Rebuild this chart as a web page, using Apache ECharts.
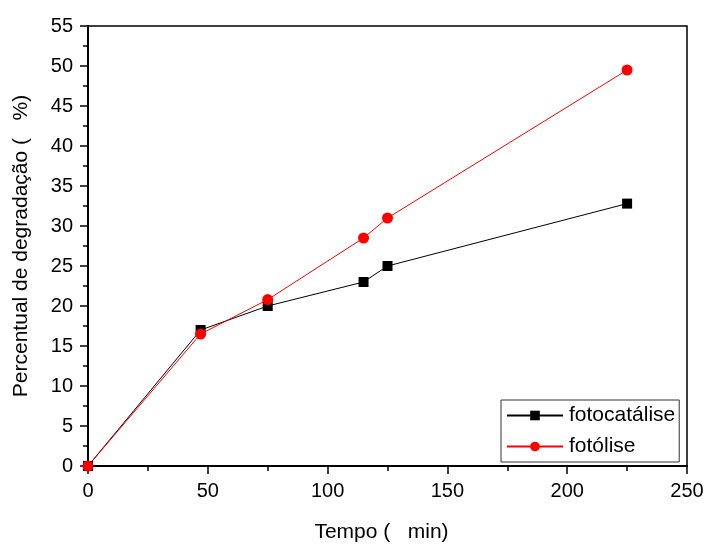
<!DOCTYPE html>
<html>
<head>
<meta charset="utf-8">
<script src="https://cdn.jsdelivr.net/npm/echarts@6/dist/echarts.min.js"></script>
<style>
  html, body { margin: 0; padding: 0; background: #fff; }
  #chart { width: 707px; height: 548px; }
</style>
</head>
<body>
<div id="chart"></div>
<script>
// tempo (min)
const tempo = [0, 47, 75, 115, 125, 225];
// percentual de degradação
const fotocatalise = [0, 17, 20, 23, 25, 32.8];
const fotolise = [0, 16.5, 20.8, 28.5, 31, 49.5];
const seriesNames = ["fotocatálise", "fotólise"];

const chart = echarts.init(document.getElementById("chart"));
const font = "Liberation Sans, Arial, sans-serif";

const pairs = (ys) => tempo.map((t, i) => [t, ys[i]]);

const option = {
  animation: false,
  textStyle: { fontFamily: font },
  grid: {
    left: 88, right: 20, top: 26, bottom: 81,
    show: true, borderColor: "#000", borderWidth: 1.5
  },
  xAxis: {
    type: "value",
    min: 0, max: 250, interval: 50,
    name: "Tempo (   min)",
    nameLocation: "middle",
    nameGap: 56,
    nameTextStyle: { fontSize: 21, color: "#000", fontFamily: font, padding: [0, 12, 0, 0] },
    axisLine: { show: true, onZero: false, lineStyle: { color: "#000", width: 2 } },
    axisTick: { show: true, length: 8, lineStyle: { color: "#000", width: 1.5 } },
    minorTick: { show: true, splitNumber: 2, length: 5, lineStyle: { color: "#000", width: 1.5 } },
    axisLabel: { fontSize: 20, color: "#000", margin: 15, fontFamily: font },
    splitLine: { show: false }
  },
  yAxis: {
    type: "value",
    min: 0, max: 55, interval: 5,
    name: "Percentual de degradação (   %)",
    nameLocation: "middle",
    nameGap: 56,
    nameTextStyle: { fontSize: 21, color: "#000", fontFamily: font },
    axisLine: { show: true, onZero: false, lineStyle: { color: "#000", width: 2 } },
    axisTick: { show: true, length: 8, lineStyle: { color: "#000", width: 1.5 } },
    minorTick: { show: true, splitNumber: 2, length: 5, lineStyle: { color: "#000", width: 1.5 } },
    axisLabel: { fontSize: 20, color: "#000", margin: 15, fontFamily: font },
    splitLine: { show: false }
  },
  legend: {
    left: 501, top: 400,
    orient: "vertical",
    itemWidth: 56, itemHeight: 12, itemGap: 10,
    padding: [5, 4, 5, 5],
    borderColor: "#333", borderWidth: 1,
    textStyle: { fontSize: 21, color: "#000", fontFamily: font, padding: [0, 0, 0, 1] },
    data: seriesNames
  },
  series: [
    {
      name: seriesNames[0],
      type: "line",
      data: pairs(fotocatalise),
      symbol: "rect",
      symbolSize: 10,
      itemStyle: { color: "#000" },
      lineStyle: { color: "#000", width: 1 }
    },
    {
      name: seriesNames[1],
      type: "line",
      data: pairs(fotolise),
      symbol: "circle",
      symbolSize: 11,
      itemStyle: { color: "#ff0000" },
      lineStyle: { color: "#ff0000", width: 1 }
    }
  ]
};

chart.setOption(option);
</script>
</body>
</html>
